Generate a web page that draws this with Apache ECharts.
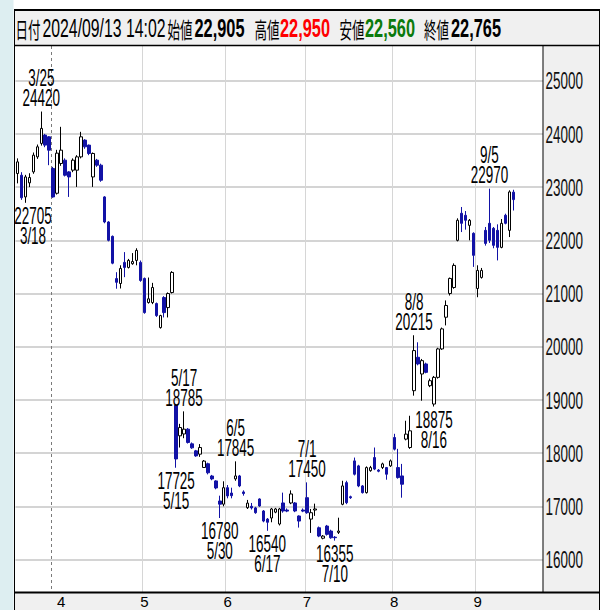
<!DOCTYPE html>
<html lang="ja">
<head>
<meta charset="utf-8">
<title>日足チャート</title>
<script src="https://cdn.jsdelivr.net/npm/echarts@6.0.0/dist/echarts.min.js"></script>
<style>
html,body{margin:0;padding:0;background:#ffffff;overflow:hidden;}
#chart{width:610px;height:610px;}
</style>
</head>
<body>
<div id="chart"></div>
<script>
// ---------------- DATA ----------------
const dates = [
 '3/14','3/15','3/18','3/19','3/21','3/22','3/25','3/26','3/27','3/28','3/29',
 '4/1','4/2','4/3','4/4','4/5','4/8','4/9','4/10','4/11','4/12','4/15','4/16','4/17','4/18','4/19','4/22','4/23','4/24','4/25','4/26','4/30',
 '5/1','5/2','5/7','5/8','5/9','5/10','5/13','5/14','5/15','5/16','5/17','5/20','5/21','5/22','5/23','5/24','5/27','5/28','5/29','5/30','5/31',
 '6/3','6/4','6/5','6/6','6/7','6/10','6/11','6/12','6/13','6/14','6/17','6/18','6/19','6/20','6/21','6/24','6/25','6/26','6/27','6/28',
 '7/1','7/2','7/3','7/4','7/5','7/8','7/9','7/10','7/11','7/12','7/16','7/17','7/18','7/19','7/22','7/23','7/24','7/25','7/26','7/29','7/30','7/31',
 '8/1','8/2','8/5','8/6','8/7','8/8','8/9','8/13','8/14','8/15','8/16','8/19','8/20','8/21','8/22','8/23','8/26','8/27','8/28','8/29','8/30',
 '9/2','9/3','9/4','9/5','9/6','9/9','9/10','9/11','9/12','9/13'
];
const opens = [
 23255,23223,22815,23080,23286,23568,23821,23977,23945,23350,22884,
 23444,23506,23286,23318,23318,23568,23883,23789,23191,23506,23412,22815,22344,22074,21280,21188,21585,21490,21560,21622,21585,
 21283,20830,20830,20811,20359,20924,20735,21018,18900,18325,18360,18450,18174,18042,17980,17730,17800,17570,17477,17100,17040,
 17350,17250,17515,17571,17270,16974,17000,16970,17138,16912,16760,16780,16890,16667,17063,16930,17063,17063,16818,16930,
 17162,16760,16930,16597,16400,16629,16535,16420,16510,17038,17445,17180,17854,17760,17383,17257,17670,17916,17680,17730,17728,17760,
 18293,17728,17571,18263,18105,19173,19801,19487,19676,19267,18922,19424,19958,20554,21000,21113,21999,22508,22470,22281,22131,
 21094,21302,22187,22319,22225,22187,21867,22470,22187,22905
];
const highs = [
 23540,23280,23230,23260,23650,23800,24420,24000,23960,23380,23700,
 24133,23540,23300,23540,23600,24039,23900,23800,23650,23530,23440,22830,22360,22090,21400,21530,21778,21650,21760,21850,21620,
 21300,21300,21200,20830,20600,20950,21020,21420,18920,18550,18785,18470,18200,18060,18170,17870,17820,17590,17490,17200,17470,
 17400,17350,17845,17590,17300,17120,17063,16990,17150,16930,16780,16970,16970,16970,17257,16960,17300,17080,16830,16960,
 17450,16950,17050,16620,16460,16650,16560,16440,16786,17480,17480,17200,17916,17780,17400,17750,17760,18105,17700,17820,17740,17880,
 18363,18080,17797,18608,18702,20215,20083,19770,19700,19400,19450,19980,20360,20870,21300,21566,22413,22626,22550,22400,22150,
 21530,21480,22250,22970,22250,22300,22400,22500,22940,22950
];
const lows = [
 23070,22760,22705,23000,23250,23530,23780,23750,23412,22800,22860,
 23400,23200,22815,23280,23003,23540,23720,23600,23003,23380,23100,22320,21980,21550,21090,21094,21307,21470,21540,21530,21220,
 20620,20810,20800,20560,20340,20550,20550,21000,17725,18105,18280,18180,18080,17930,17930,17720,17600,17490,17320,16780,17000,
 17150,17150,17480,17360,17200,16950,16940,16860,16990,16700,16540,16700,16870,16640,16880,16890,17040,16890,16600,16890,
 16860,16500,16820,16420,16380,16450,16390,16355,16480,17020,17040,17140,17580,17360,17240,17240,17650,17680,17640,17700,17500,17740,
 18050,17520,17162,18240,18080,19080,19650,18985,19500,19240,18875,19400,19940,20400,20962,21090,21980,22155,22200,22000,21500,
 20930,21280,21900,21950,21850,21622,21850,22300,22061,22560
];
const closes = [
 23474,22800,23191,23180,23600,23757,24103,23789,23694,22815,23638,
 23694,23223,23191,23506,23568,23945,23757,23632,23632,23412,23129,22344,22000,21570,21210,21471,21490,21622,21600,21810,21245,
 20641,20900,21113,20585,20585,20641,20999,21396,17890,18481,18450,18200,18099,17948,18105,17850,17630,17515,17345,17040,17350,
 17195,17200,17571,17383,17240,17060,16970,16880,17006,16723,16700,16950,16950,16950,16912,16910,17232,16912,16723,16910,
 16880,16880,16950,16441,16440,16473,16409,16410,16535,17383,17068,17162,17603,17383,17257,17728,17728,17700,17660,17797,17603,17854,
 18074,17540,17415,18357,18419,19927,19676,19738,19518,19361,19424,19958,20335,20775,21283,21528,22376,22319,22376,22376,21717,
 21434,21434,21942,22000,21905,21867,22319,22319,22909,22765
];
// empty future slots at the right end of the axis
const futureSlots = ['9/17','9/18','9/19','9/20','9/24','9/25','9/26'];
// month ticks (first trading day of each month) and their labels
const monthStarts = ['4/1','5/1','6/3','7/1','8/1','9/2'];
const monthLabels = ['4','5','6','7','8','9'];
// price axis ticks
const yTicks = [16000,17000,18000,19000,20000,21000,22000,23000,24000,25000];
const yTickLabels = ['16000','17000','18000','19000','20000','21000','22000','23000','24000','25000'];
// annotated highs / lows
const annDates  = ['3/25','3/18','5/17','5/15','6/5','5/30','6/17','7/1','7/10','8/8','8/16','9/5'];
const annValues = [24420,22705,18785,17725,17845,16780,16540,17450,16355,20215,18875,22970];
const annKinds  = ['high','low','high','low','high','low','low','high','low','high','low','high'];
// dashed marker (ex-rights boundary) before this date
const markerDate = '3/28';
// header
const headerLabels = ['日付','始値','高値','安値','終値'];
const headerValues = ['2024/09/13 14:02','22,905','22,950','22,560','22,765'];

// ---------------- LAYOUT / STYLE ----------------
const GRID = {left: 15.5, top: 46, width: 527.5, height: 546.5};
const Y_MIN = 15380, Y_MAX = 25652;
const SANS = "'Liberation Sans', Arial, sans-serif";
const ANN_FONT = "23px " + SANS;
const YL_FONT = "24.5px " + SANS;
const H_LABEL_FONT = "22px 'Noto Sans CJK JP', 'Noto Sans CJK SC', sans-serif";
const H_DATE_FONT = "25px " + SANS;
const H_VALUE_FONT = "bold 25px " + SANS;
const UP_COLOR = '#ffffff', UP_BORDER = '#000000';
const DOWN_COLOR = '#1212a6';

const mctx = document.createElement('canvas').getContext('2d');
function fitScale(text, font, target) {
  mctx.font = font;
  const w = mctx.measureText(text).width;
  return w > 0 ? target / w : 1;
}
const ANN_SCALE = fitScale('24420', ANN_FONT, 37.5);
const YL_SCALE = fitScale('16000', YL_FONT, 37.5);

const headerLabelX = [15.5, 167.5, 254.5, 339.5, 424];
const headerValueX = [42.5, 194.5, 280, 365, 451];
const headerValueW = [123, 50, 50, 50, 50];
const headerValueColor = ['#000000', '#000000', '#ff0000', '#0b7a0b', '#000000'];
const HEADER_Y = 28;

// ---------------- BUILD ----------------
const categories = dates.concat(futureSlots);
const candleData = dates.map((d, i) => [opens[i], closes[i], lows[i], highs[i]]);
const monthSet = new Set(monthStarts);
const monthMap = {};
monthStarts.forEach((d, i) => { monthMap[d] = monthLabels[i]; });

function scaledText(x, y, text, font, scale, fill, align) {
  return {
    type: 'text', x: x, y: y, scaleX: scale, silent: true,
    style: {text: text, font: font, fill: fill, align: align, textAlign: align,
            verticalAlign: 'middle', textVerticalAlign: 'middle'}
  };
}

function renderAnn(params, api) {
  const i = params.dataIndex;
  const pt = api.coord([api.value(0), api.value(1)]);
  const cs = params.coordSys;
  const half = 17.5;
  const cx = Math.min(Math.max(pt[0], cs.x + half), cs.x + cs.width - half);
  const isHigh = annKinds[i] === 'high';
  const nearY = isHigh ? pt[1] - 13.5 : pt[1] + 13.5;
  const farY = isHigh ? pt[1] - 33.5 : pt[1] + 33.5;
  return {type: 'group', children: [
    scaledText(cx, nearY, String(annValues[i]), ANN_FONT, ANN_SCALE, '#000', 'center'),
    scaledText(cx, farY, annDates[i], ANN_FONT, ANN_SCALE, '#000', 'center')
  ]};
}

function renderYLabel(params, api) {
  const pt = api.coord([api.value(0), api.value(1)]);
  const cs = params.coordSys;
  return scaledText(cs.x + cs.width + 2.5, pt[1], yTickLabels[params.dataIndex], YL_FONT, YL_SCALE, '#111', 'left');
}

function renderMarker(params, api) {
  const pt = api.coord([api.value(0), api.value(1)]);
  const bw = api.size([1, 0])[0];
  const x = Math.round(pt[0] - bw / 2) + 0.5;
  const cs = params.coordSys;
  return {type: 'line', silent: true,
    shape: {x1: x, y1: cs.y, x2: x, y2: cs.y + cs.height},
    style: {stroke: '#7a7a7a', lineWidth: 1, lineDash: [3, 3]}};
}

// header / frame graphics
const graphics = [
  {type: 'rect', z: -1, silent: true, shape: {x: 0, y: 0, width: 13.5, height: 610}, style: {fill: '#ddeef1'}},
  {type: 'rect', z: -1, silent: true, shape: {x: 14.5, y: 10.5, width: 585, height: 35}, style: {fill: '#f0f0f0', stroke: '#000', lineWidth: 1}},
  {type: 'rect', z: -1, silent: true, shape: {x: 543.5, y: 46, width: 56, height: 547}, style: {fill: '#f0f0f0'}},
  {type: 'rect', z: -1, silent: true, shape: {x: 14.5, y: 593, width: 585, height: 17}, style: {fill: '#f0f0f0'}},
  {type: 'line', z: 100, silent: true, shape: {x1: 14, y1: 10, x2: 600, y2: 10}, style: {stroke: '#000', lineWidth: 2}},
  {type: 'line', z: 100, silent: true, shape: {x1: 14, y1: 45.5, x2: 600, y2: 45.5}, style: {stroke: '#000', lineWidth: 1.5}},
  {type: 'line', z: 100, silent: true, shape: {x1: 14.5, y1: 10, x2: 14.5, y2: 610}, style: {stroke: '#000', lineWidth: 1}},
  {type: 'line', z: 100, silent: true, shape: {x1: 543, y1: 45.5, x2: 543, y2: 592.5}, style: {stroke: '#000', lineWidth: 1}},
  {type: 'line', z: 100, silent: true, shape: {x1: 599.5, y1: 10, x2: 599.5, y2: 610}, style: {stroke: '#000', lineWidth: 1}},
  {type: 'line', z: 100, silent: true, shape: {x1: 14, y1: 592.5, x2: 600, y2: 592.5}, style: {stroke: '#000', lineWidth: 2}}
];
headerLabels.forEach((t, i) => {
  graphics.push(Object.assign(scaledText(headerLabelX[i], HEADER_Y, t, H_LABEL_FONT, fitScale(t, H_LABEL_FONT, 25), '#000', 'left'), {z: 10}));
});
headerValues.forEach((t, i) => {
  const font = i === 0 ? H_DATE_FONT : H_VALUE_FONT;
  graphics.push(Object.assign(scaledText(headerValueX[i], HEADER_Y, t, font, fitScale(t, font, headerValueW[i]), headerValueColor[i], 'left'), {z: 10}));
});

const chart = echarts.init(document.getElementById('chart'), null, {renderer: 'svg'});
chart.setOption({
  animation: false,
  backgroundColor: '#ffffff',
  grid: Object.assign({containLabel: false, outerBoundsMode: 'none', show: false}, GRID),
  xAxis: {
    type: 'category',
    data: categories,
    boundaryGap: true,
    axisLine: {show: false},
    axisTick: {show: false},
    axisLabel: {
      show: true,
      interval: (idx, val) => monthSet.has(val),
      formatter: (val) => monthMap[val] || '',
      fontFamily: "'Liberation Sans Narrow', 'Liberation Sans', Arial, sans-serif",
      fontSize: 15, lineHeight: 15, color: '#000', margin: 1.5,
      verticalAlign: 'top'
    },
    splitLine: {
      show: true,
      interval: (idx, val) => monthSet.has(val),
      showMinLine: false, showMaxLine: false,
      lineStyle: {color: '#d6d6d6', width: 1}
    }
  },
  yAxis: {
    type: 'value',
    position: 'right',
    min: Y_MIN, max: Y_MAX,
    splitNumber: 10, minInterval: 1000, maxInterval: 1000,
    scale: true,
    axisLine: {show: false},
    axisTick: {show: false},
    axisLabel: {show: false},
    splitLine: {show: true, showMinLine: false, showMaxLine: false, lineStyle: {color: '#d4d4d4', width: 2}}
  },
  graphic: {elements: graphics},
  series: [
    {
      type: 'custom', name: 'marker', silent: true, z: 1,
      renderItem: renderMarker,
      data: [[markerDate, Y_MIN]]
    },
    {
      type: 'candlestick', name: 'price', silent: true, z: 3,
      data: candleData,
      barWidth: 3,
      itemStyle: {color: UP_COLOR, color0: DOWN_COLOR, borderColor: UP_BORDER, borderColor0: DOWN_COLOR, borderWidth: 1},
      emphasis: {disabled: true}
    },
    {
      type: 'custom', name: 'annotations', silent: true, z: 5, clip: false,
      renderItem: renderAnn,
      data: annDates.map((d, i) => [d, annValues[i]])
    },
    {
      type: 'custom', name: 'yLabels', silent: true, z: 5, clip: false,
      renderItem: renderYLabel,
      data: yTicks.map(v => [dates[0], v])
    }
  ]
});
</script>
</body>
</html>
